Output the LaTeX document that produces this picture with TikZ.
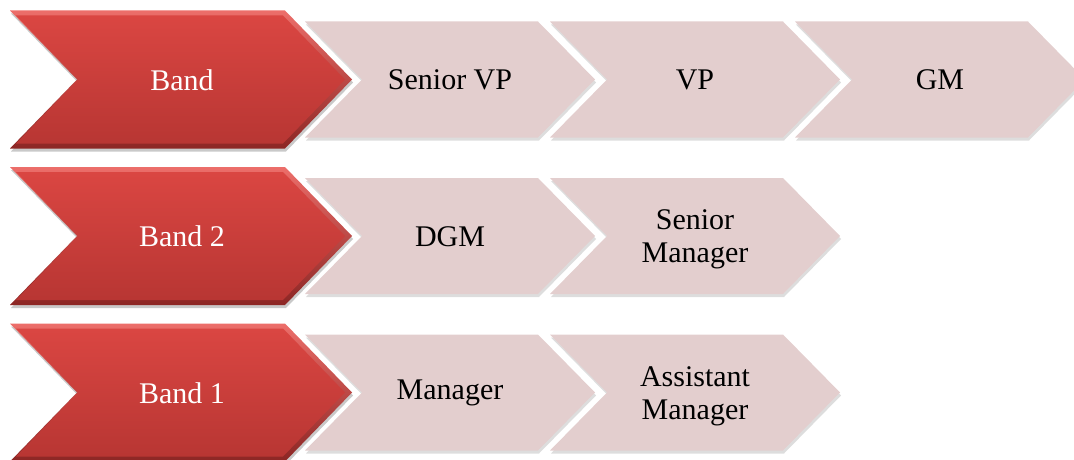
\documentclass[tikz,border=0pt]{standalone}
\usepackage{fontspec}
\setmainfont{Liberation Serif}
\usetikzlibrary{shadows}
\definecolor{pinkfill}{RGB}{227,206,206}
\definecolor{redtop}{RGB}{236,110,106}
\definecolor{redmid}{RGB}{218,70,66}
\definecolor{redbot}{RGB}{184,54,51}
\definecolor{rededge}{RGB}{140,38,36}
% chevron: L, T, W (top edge length), H, D (point depth)
\newcommand{\chevp}[5]{(#1,#2) -- ({#1+#3},#2) -- ({#1+#3+#5},{#2+#4/2}) -- ({#1+#3},{#2+#4}) -- (#1,{#2+#4}) -- ({#1+#5},{#2+#4/2}) -- cycle}
\tikzset{
  pinkshape/.style={fill=pinkfill, draw=none, drop shadow={shadow xshift=1pt, shadow yshift=-3pt, opacity=0.22, fill=black!60}},
  redouter/.style={top color=redtop, bottom color=rededge, draw=none, drop shadow={shadow xshift=1pt, shadow yshift=-3pt, opacity=0.3, fill=black!70}},
  redinner/.style={top color=redmid, bottom color=redbot, draw=none},
  redlabel/.style={text=white, font=\fontsize{30}{33}\selectfont, align=center},
  pinklabel/.style={text=black, font=\fontsize{30}{33}\selectfont, align=center},
}
\begin{document}
\begin{tikzpicture}[x=1pt,y=-1pt]
\useasboundingbox (0,0) rectangle (1074,460);
% pink chevrons
\foreach \L/\T in {795/21.5, 550/21.5, 305/21.5, 550/178, 305/178, 550/334.5, 305/334.5}{
  \path[pinkshape] \chevp{\L}{\T}{233}{116}{57};
}
% red chevrons with bevel
\foreach \T in {10.5, 167, 323.5}{
  \path[redouter] \chevp{10}{\T}{275}{138}{67};
  \path[redinner] \chevp{16}{\T+5}{267}{128}{62};
}
% labels
\node[redlabel] (b3) at (182,80) {Band};
\node[redlabel] (b2) at (182,236.5) {Band 2};
\node[redlabel] (b1) at (182,393) {Band 1};
\node[pinklabel] (svp) at (450,80) {Senior VP};
\node[pinklabel] (vp) at (695,80) {VP};
\node[pinklabel] (gm) at (940,80) {GM};
\node[pinklabel] (dgm) at (450,236.5) {DGM};
\node[pinklabel] (sm) at (695,239.5) {Senior\\Manager};
\node[pinklabel] (mgr) at (450,393) {Manager};
\node[pinklabel] (am) at (695,396) {Assistant\\Manager};
\end{tikzpicture}
\end{document}
